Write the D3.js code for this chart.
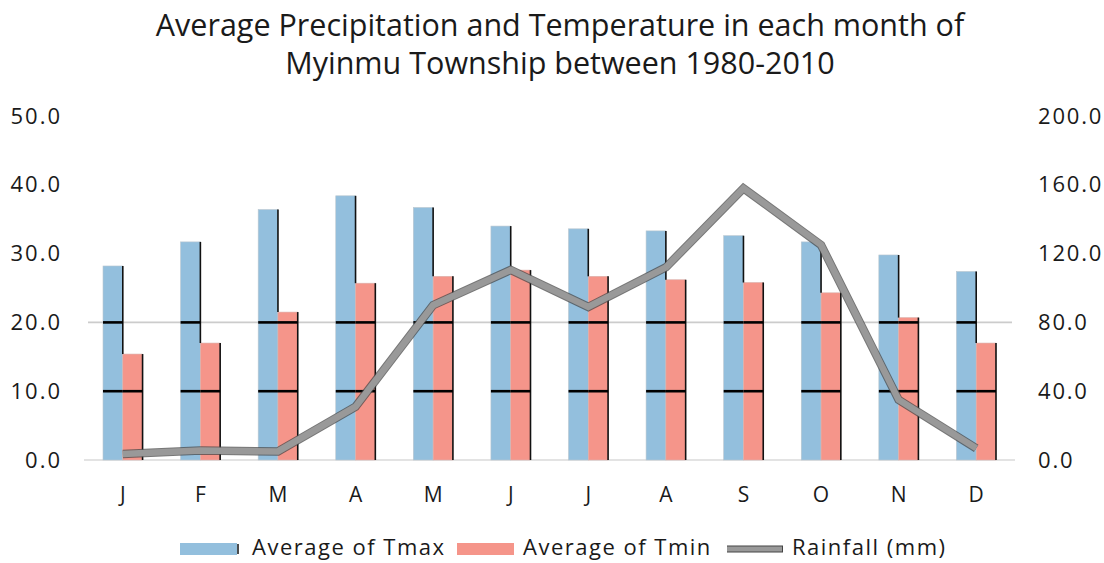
<!DOCTYPE html>
<html>
<head>
<meta charset="utf-8">
<script src="https://cdn.jsdelivr.net/npm/d3@7/dist/d3.min.js"></script>
<style>
  html, body { margin: 0; padding: 0; background: #fff; }
  svg { display: block; }
  text { font-family: "Open Sans", "Noto Sans", sans-serif; fill: #1a1a1a; }
</style>
</head>
<body>
<svg id="chart" width="1104" height="563"></svg>
<script>
// Monthly climate normals, Myinmu Township 1980-2010
const months = ["J", "F", "M", "A", "M", "J", "J", "A", "S", "O", "N", "D"];
const tmax = [28.2, 31.7, 36.4, 38.4, 36.7, 34.0, 33.6, 33.3, 32.6, 31.7, 29.8, 27.4];
const tmin = [15.4, 17.0, 21.5, 25.7, 26.7, 27.6, 26.7, 26.2, 25.8, 24.3, 20.7, 17.0];
const rainfall = [3.5, 5.5, 5.0, 31, 90, 110.5, 89, 112, 158, 125, 35, 6.8];

const leftTicks = [0, 10, 20, 30, 40, 50];
const rightTicks = [0, 40, 80, 120, 160, 200];
const darkRuleTicks = [10, 20];
const titleLines = ["Average Precipitation and Temperature in each month of",
                    "Myinmu Township between 1980-2010"];
const legendItems = [
  { label: "Average of Tmax", kind: "bar", color: "#93bfdd" },
  { label: "Average of Tmin", kind: "bar", color: "#f5958a" },
  { label: "Rainfall (mm)", kind: "line", color: "#999999" }
];

const svg = d3.select("#chart");
const plot = { left: 84, right: 1015, top: 116, bottom: 460 };

const x = d3.scaleBand()
  .domain(d3.range(months.length))
  .range([plot.left, plot.right])
  .paddingInner(0.49)
  .paddingOuter(0.245);
const xs = d3.scaleBand().domain(["tmax", "tmin"]).range([0, x.bandwidth()]);
const yL = d3.scaleLinear().domain([0, 50]).range([plot.bottom, plot.top]);
const yR = d3.scaleLinear().domain([0, 200]).range([plot.bottom, plot.top]);
const cx = i => x(i) + x.bandwidth() / 2;

// Title
svg.append("g").selectAll("text").data(titleLines).join("text")
  .attr("x", 560).attr("y", (d, i) => 36 + i * 38)
  .attr("text-anchor", "middle")
  .style("font-size", "30.5px")
  .text(d => d);

// Baseline and 20° rule
svg.append("line")
  .attr("x1", plot.left).attr("x2", plot.right)
  .attr("y1", yL(0)).attr("y2", yL(0))
  .attr("stroke", "#dadada").attr("stroke-width", 1.5);
svg.append("line")
  .attr("x1", plot.left + 4).attr("x2", plot.right - 3)
  .attr("y1", yL(20)).attr("y2", yL(20))
  .attr("stroke", "#cccccc").attr("stroke-width", 1.8);

// Left axis
const axL = d3.axisLeft(yL).tickValues(leftTicks).tickFormat(d3.format(".1f")).tickSize(0).tickPadding(0);
svg.append("g").attr("transform", "translate(62,0)").call(axL)
  .call(g => g.select(".domain").remove())
  .call(g => g.selectAll("text").style("font-size", "22px").style("letter-spacing", "2px").attr("fill", "#1a1a1a"));

// Right axis
const axR = d3.axisRight(yR).tickValues(rightTicks).tickFormat(d3.format(".1f")).tickSize(0).tickPadding(0);
svg.append("g").attr("transform", "translate(1038,0)").call(axR)
  .call(g => g.select(".domain").remove())
  .call(g => g.selectAll("text").style("font-size", "22px").style("letter-spacing", "1.8px").attr("fill", "#1a1a1a"));

// Month axis
const axB = d3.axisBottom(x).tickFormat(i => months[i]).tickSize(0).tickPadding(0);
svg.append("g").attr("transform", "translate(0,487)").call(axB)
  .call(g => g.select(".domain").remove())
  .call(g => g.selectAll("text").style("font-size", "21px").attr("fill", "#1a1a1a").attr("dy", "0.71em"));

// Bars
const rows = months.map((m, i) => ({ i, tmax: tmax[i], tmin: tmin[i] }));
const groups = svg.append("g").selectAll("g").data(rows).join("g")
  .attr("transform", d => `translate(${x(d.i)},0)`);

groups.append("rect")
  .attr("x", xs("tmax")).attr("width", xs.bandwidth())
  .attr("y", d => yL(d.tmax)).attr("height", d => yL(0) - yL(d.tmax))
  .attr("fill", legendItems[0].color).attr("stroke", "#b9c6cf").attr("stroke-width", 0.6);
groups.append("rect")
  .attr("x", xs("tmin")).attr("width", xs.bandwidth())
  .attr("y", d => yL(d.tmin)).attr("height", d => yL(0) - yL(d.tmin))
  .attr("fill", legendItems[1].color).attr("stroke", "#d9b3ae").attr("stroke-width", 0.6);

// Dark right edges on the bars
groups.append("line")
  .attr("x1", xs("tmax") + xs.bandwidth()).attr("x2", xs("tmax") + xs.bandwidth())
  .attr("y1", d => yL(d.tmax)).attr("y2", d => yL(Math.min(d.tmin, d.tmax)))
  .attr("stroke", "#111").attr("stroke-width", 1.6);
groups.append("line")
  .attr("x1", xs("tmin") + xs.bandwidth()).attr("x2", xs("tmin") + xs.bandwidth())
  .attr("y1", d => yL(d.tmin)).attr("y2", yL(0))
  .attr("stroke", "#111").attr("stroke-width", 1.6);

// Dark rules where the 10 and 20 gridlines cross the bars
groups.each(function(d) {
  const g = d3.select(this);
  ["tmax", "tmin"].forEach(k => {
    darkRuleTicks.filter(t => d[k] > t).forEach(t => {
      g.append("line")
        .attr("x1", xs(k)).attr("x2", xs(k) + xs.bandwidth())
        .attr("y1", yL(t)).attr("y2", yL(t))
        .attr("stroke", "#000").attr("stroke-width", 2.6);
    });
  });
});

// Rainfall line
const line = d3.line().x((d, i) => cx(i)).y(d => yR(d));
svg.append("path").datum(rainfall).attr("d", line)
  .attr("fill", "none").attr("stroke", "#4a4a4a").attr("stroke-width", 8.5)
  .attr("stroke-linejoin", "miter").attr("stroke-opacity", 0.75);
svg.append("path").datum(rainfall).attr("d", line)
  .attr("fill", "none").attr("stroke", legendItems[2].color).attr("stroke-width", 6.5)
  .attr("stroke-linejoin", "miter");

// Legend
const legendX = [180, 457, 727];
const lg = svg.append("g").selectAll("g").data(legendItems).join("g")
  .attr("transform", (d, i) => `translate(${legendX[i]},549)`);
lg.filter(d => d.kind === "bar").append("rect")
  .attr("x", 0).attr("y", -6).attr("width", 57).attr("height", 12)
  .attr("fill", d => d.color);
lg.filter(d => d.kind === "bar").filter((d, i) => i === 0).append("line")
  .attr("x1", 58).attr("x2", 58).attr("y1", -5).attr("y2", 5)
  .attr("stroke", "#111").attr("stroke-width", 1.5);
lg.filter(d => d.kind === "line").append("line")
  .attr("x1", 0).attr("x2", 56).attr("y1", 0).attr("y2", 0)
  .attr("stroke", "#444").attr("stroke-width", 7);
lg.filter(d => d.kind === "line").append("line")
  .attr("x1", 0).attr("x2", 55).attr("y1", 0).attr("y2", 0)
  .attr("stroke", d => d.color).attr("stroke-width", 5);
lg.append("text")
  .attr("x", (d, i) => i === 2 ? 65 : (i === 0 ? 72 : 66))
  .attr("y", -2).attr("dy", "0.36em")
  .style("font-size", "22px")
  .style("letter-spacing", "1.5px")
  .text(d => d.label);
</script>
</body>
</html>
